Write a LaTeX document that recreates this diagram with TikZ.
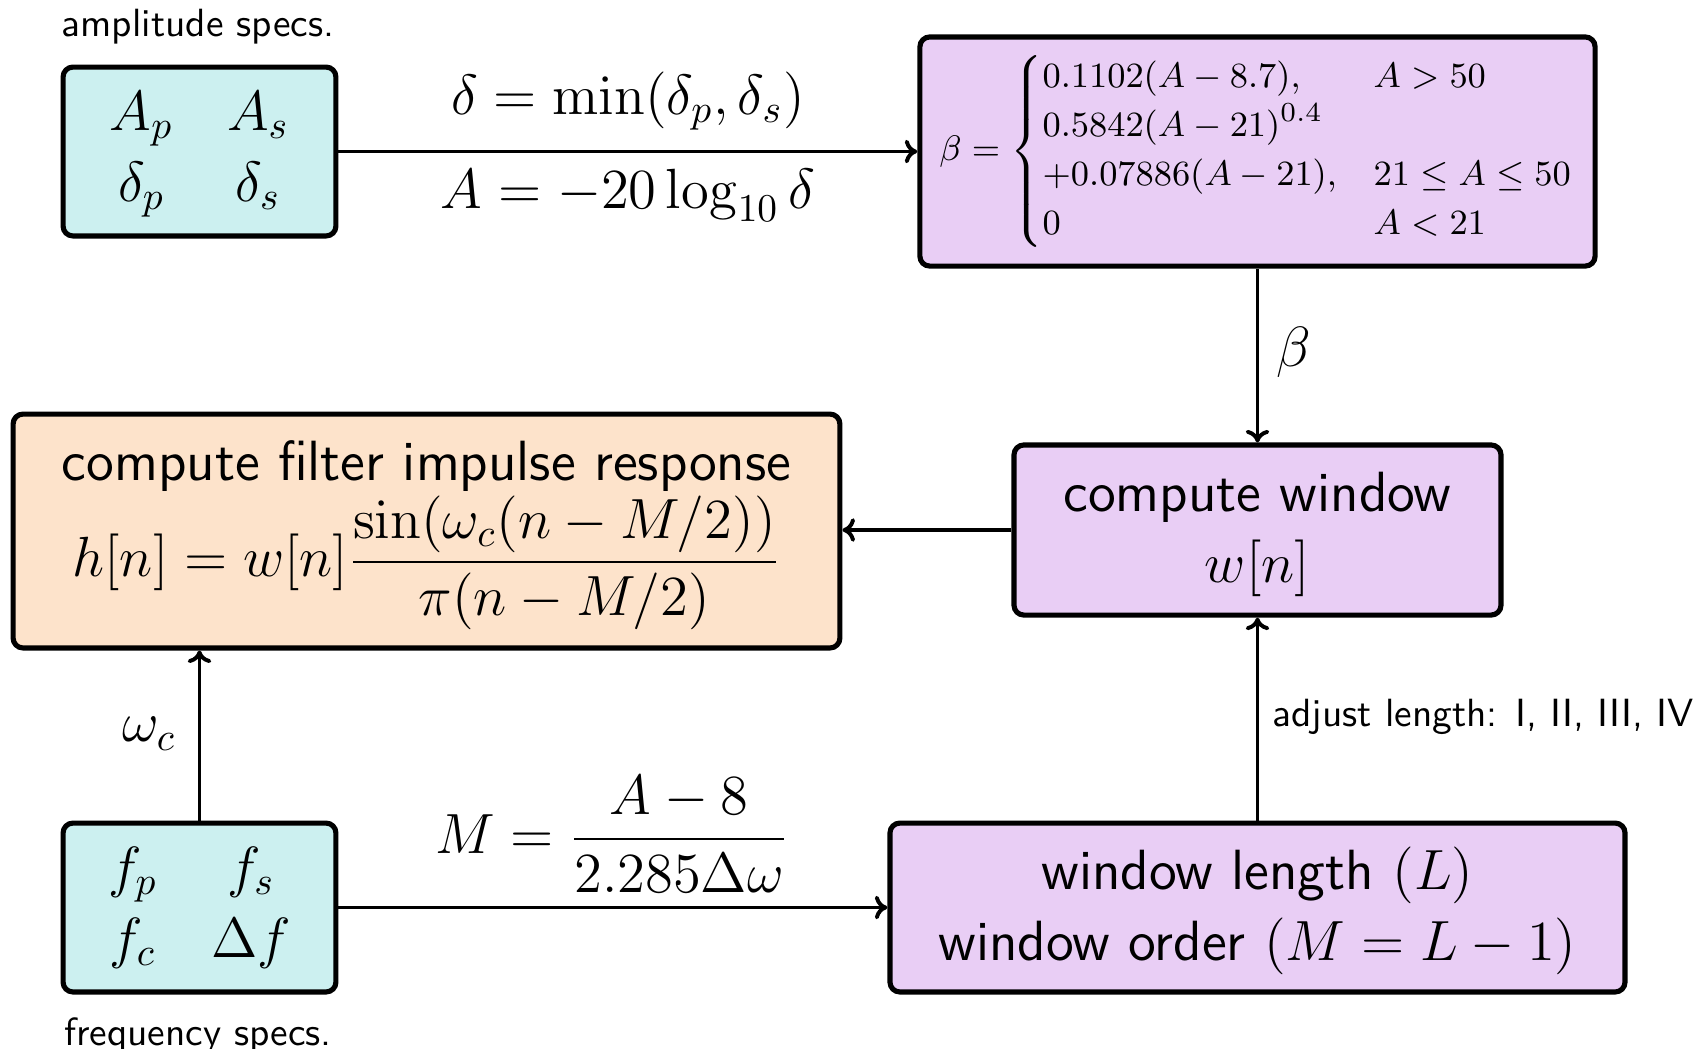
\documentclass[tikz,border=0pt]{standalone}
\usepackage{amsmath}
\usetikzlibrary{arrows.meta}
\renewcommand{\familydefault}{\sfdefault}
\definecolor{cyanbox}{RGB}{204,240,240}
\definecolor{lilac}{RGB}{233,206,245}
\definecolor{peach}{RGB}{253,227,203}
\newcommand{\topstrut}[1]{\rule{0pt}{#1}}
\begin{document}
\begin{tikzpicture}[x=0.254pt,y=-0.254pt,
  box/.style={draw,line width=1.3pt,rounded corners=2.5pt,align=center,inner sep=2pt},
  conn/.style={line width=1.0pt,-{To[length=3.2pt,width=6pt,round]}},
  lbl/.style={font=\Large}]
\useasboundingbox (0,0) rectangle (1698,1048);
% boxes
\node[box,fill=cyanbox,minimum width=69.3pt,minimum height=42.9pt,font=\Large] (amp) at (199.5,151.5)
  {$\begin{array}{@{}c@{\hspace{0.95em}}c@{}}A_p&A_s\\\delta_p&\delta_s\end{array}$};
\node[box,fill=lilac,minimum width=171.5pt,minimum height=58.2pt,font=\fontsize{9.3}{11}\selectfont] (beta) at (1257.5,151.5)
  {$\renewcommand{\arraystretch}{1.13}\beta=\left\{\begin{array}{@{}l@{\quad}l@{}}0.1102(A-8.7), & A>50\\ 0.5842(A-21)^{0.4} & \\ +0.07886(A-21), & 21\le A\le 50\\ 0 & A<21\end{array}\right.$};
\node[box,fill=peach,minimum width=210pt,minimum height=59.4pt,font=\Large] (filt) at (426.5,531)
  {\topstrut{12.2pt}compute filter impulse response\\ $h[n]=w[n]\dfrac{\sin(\omega_c(n-M/2))}{\pi(n-M/2)}$};
\node[box,fill=lilac,minimum width=123.7pt,minimum height=43.2pt,font=\Large] (win) at (1257.5,530)
  {\topstrut{12.2pt}compute window\\ $w[n]$};
\node[box,fill=cyanbox,minimum width=69.3pt,minimum height=42.9pt,font=\Large] (freq) at (199.5,907.5)
  {$\begin{array}{@{}c@{\hspace{0.95em}}c@{}}f_p&f_s\\f_c&\Delta f\end{array}$};
\node[box,fill=lilac,minimum width=186.7pt,minimum height=42.9pt,font=\Large] (winlen) at (1257.5,907.5)
  {\topstrut{12.6pt}window length $(L)$\\ window order $(M=L-1)$};
% side labels
\node (amplbl) at (198,27) {amplitude specs.};
\node (freqlbl) at (198,1036) {frequency specs.};
% connectors
\draw[conn] (amp.east) -- (beta.west);
\node[lbl] (dlbl) at (628,101) {$\delta=\min(\delta_p,\delta_s)$};
\node[lbl] (albl) at (628,195) {$A=-20\log_{10}\delta$};
\draw[conn] (beta.south) -- (win.north);
\node[lbl] (blbl) at (1294,352) {$\beta$};
\draw[conn] (win.west) -- (win.west -| filt.east);
\draw[conn] (freq.north) -- (freq.north |- filt.south);
\node[lbl] (wlbl) at (149,734) {$\omega_c$};
\draw[conn] (freq.east) -- (freq.east -| winlen.west);
\node[lbl] (mlbl) at (612,834) {$M=\dfrac{A-8}{2.285\Delta\omega}$};
\draw[conn] (winlen.north) -- (win.south);
\node (adjlbl) at (1483,717) {adjust length: I, II, III, IV};
\end{tikzpicture}
\end{document}
